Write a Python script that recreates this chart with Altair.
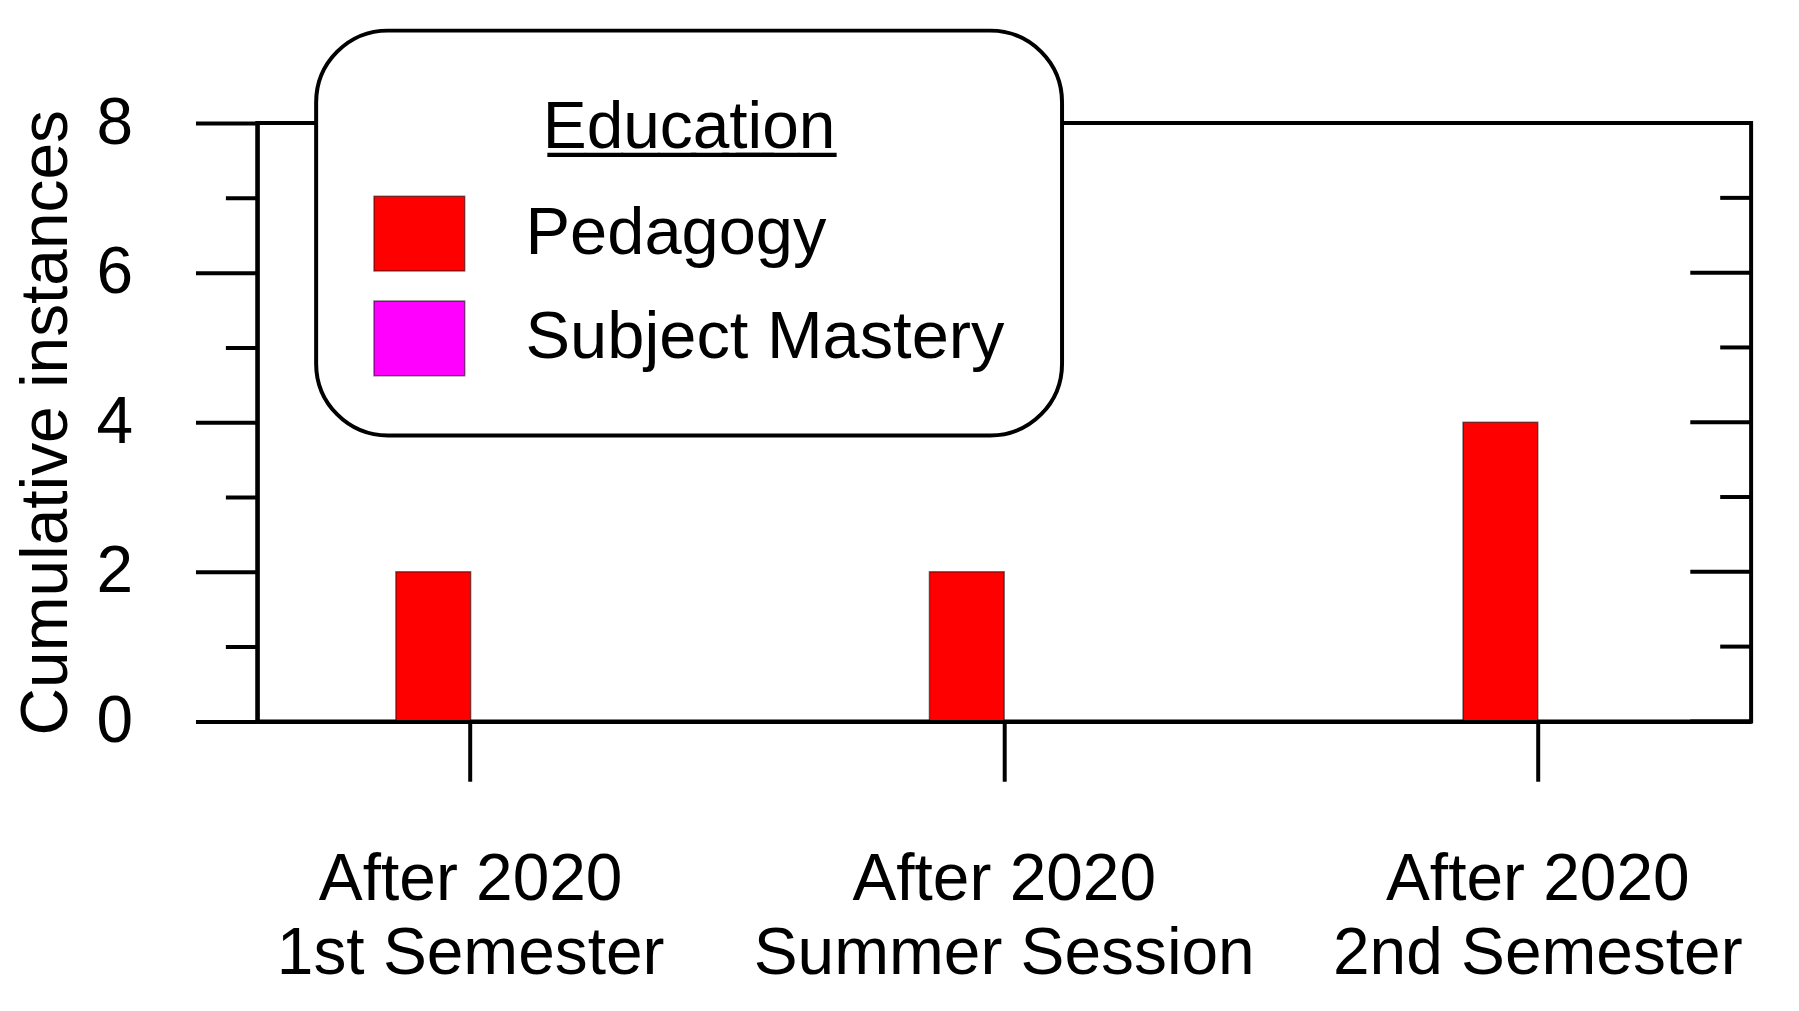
import altair as alt
import pandas as pd

# ---- data ----
periods = ["After 2020\n1st Semester", "After 2020\nSummer Session", "After 2020\n2nd Semester"]
series = ["Pedagogy", "Subject Mastery"]
pedagogy = [2, 2, 4]
subject_mastery = [0, 0, 0]
series_colors = ["#ff0000", "#ff00ff"]
y_ticks = [0, 1, 2, 3, 4, 5, 6, 7, 8]
y_title = "Cumulative instances"
legend_title = "Education"

rows = []
for p, v in zip(periods, pedagogy):
    rows.append({"period": p, "series": series[0], "count": v})
for p, v in zip(periods, subject_mastery):
    rows.append({"period": p, "series": series[1], "count": v})
df = pd.DataFrame(rows)
tick_df = pd.DataFrame({"v": y_ticks})

W, H = 1498, 600
ink = "black"
font = "Liberation Sans"
edge = "rgba(0,0,0,0.5)"
LW = 4
underlined = "".join(c + "\u0332" for c in legend_title)

yscale = alt.Scale(domain=[0, 8], nice=False)

bars = alt.Chart(df).mark_bar(stroke=edge, strokeWidth=1.5).encode(
    x=alt.X(
        "period:N", sort=periods,
        scale=alt.Scale(paddingInner=0.7197, paddingOuter=0.2597),
        axis=alt.Axis(
            title=None, labelExpr="split(datum.label, '\\n')", labelAngle=0,
            tickSize=60, tickWidth=LW, tickColor=ink,
            domainWidth=LW, domainColor=ink,
            labelFontSize=66, labelLineHeight=74, labelPadding=67,
            labelFont=font, labelColor=ink, labelLimit=2000, zindex=1,
        ),
    ),
    xOffset=alt.XOffset("series:N", sort=series,
                        scale=alt.Scale(domain=series, paddingInner=0, paddingOuter=0)),
    y=alt.Y(
        "count:Q", scale=yscale,
        axis=alt.Axis(
            values=y_ticks, title=y_title, orient="left",
            labelExpr="datum.value % 2 === 0 ? datum.label : ''",
            tickSize={"condition": {"test": "datum.value % 2 === 1", "value": 32}, "value": 62},
            tickWidth=LW, tickColor=ink, domainWidth=LW, domainColor=ink,
            labelFontSize=66, labelFont=font, labelColor=ink, labelPadding=63,
            titleFontSize=66, titleFont=font, titleColor=ink, titleFontWeight="normal",
            titlePadding=16, zindex=1,
        ),
    ),
    color=alt.Color(
        "series:N", scale=alt.Scale(domain=series, range=series_colors),
        legend=alt.Legend(
            orient="none", legendX=59, legendY=-92.7,
            title=underlined, titleFontSize=66, titleFont=font, titleFontWeight="normal",
            titleColor=ink, titleAnchor="middle", titlePadding=34, titleLimit=2000,
            titleBaseline="line-top", titleLineHeight=83,
            labelFontSize=67, labelFont=font, labelColor=ink, labelLimit=2000, labelOffset=60,
            symbolType="M-1,-0.824H1V0.824H-1Z", symbolSize=8281,
            symbolStrokeWidth=1.5, symbolStrokeColor=edge, symbolOpacity=1,
            rowPadding=18, padding=57, strokeColor=ink, cornerRadius=72, fillColor="white",
        ),
    ),
)

right_major = alt.Chart(tick_df).transform_filter("datum.v % 2 === 0").mark_rule(
    color=ink, strokeWidth=LW
).encode(y=alt.Y("v:Q", scale=yscale, axis=None), x=alt.value(W), x2=alt.value(W - 61))

right_minor = alt.Chart(tick_df).transform_filter("datum.v % 2 === 1").mark_rule(
    color=ink, strokeWidth=LW
).encode(y=alt.Y("v:Q", scale=yscale, axis=None), x=alt.value(W), x2=alt.value(W - 31))

chart = (
    alt.layer(bars, right_major, right_minor)
    .resolve_scale(y="shared")
    .resolve_axis(y="independent")
    .properties(
        width=W, height=H,
        autosize=alt.AutoSizeParams(type="none"),
        padding={"left": 250, "top": 114, "right": 40, "bottom": 280},
        background="white",
    )
    .configure_view(stroke=ink, strokeWidth=LW)
    .configure_axis(grid=False)
    .configure_legend(strokeWidth=4)
)

chart.save("out.html", embed_options={"renderer": "svg", "actions": False})
